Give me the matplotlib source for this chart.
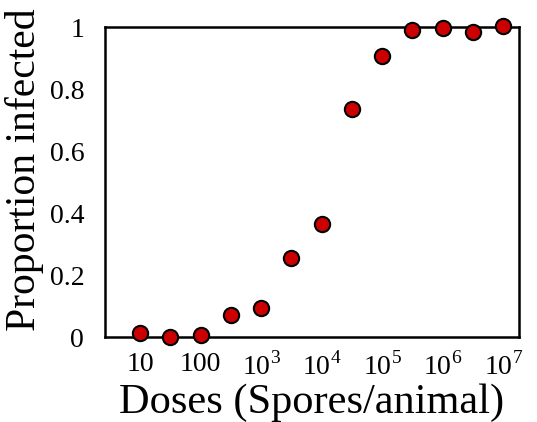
import numpy as np
import matplotlib.pyplot as plt

# Dose series: half-decade steps from 10 to 1e7 spores/animal
dose_exponents = [1, 1.5, 2, 2.5, 3, 3.5, 4, 4.5, 5, 5.5, 6, 6.5, 7]
proportion_infected = [0.014, 0.0, 0.005, 0.07, 0.093, 0.255, 0.365,
                       0.737, 0.908, 0.99, 0.997, 0.985, 1.003]
x_tick_exponents = [1, 2, 3, 4, 5, 6, 7]
x_tick_labels = ['10', '100', '10$^{3}$', '10$^{4}$', '10$^{5}$', '10$^{6}$', '10$^{7}$']
y_ticks = [0, 0.2, 0.4, 0.6, 0.8, 1]
y_tick_labels = ['0', '0.2', '0.4', '0.6', '0.8', '1']

plt.rcParams['font.family'] = 'Liberation Serif'
plt.rcParams['mathtext.fontset'] = 'custom'
plt.rcParams['mathtext.rm'] = 'Liberation Serif'

doses = 10.0 ** np.array(dose_exponents)

fig = plt.figure(figsize=(5.37, 4.22), dpi=100)
ax = fig.add_axes([0.1955, 0.2014, 0.771, 0.7346])

ax.plot(doses, proportion_infected, 'o', color='#cc0000', markeredgecolor='black',
        markeredgewidth=1.5, markersize=11, clip_on=False, zorder=3)

ax.set_xscale('log')
ax.set_xlim(10 ** 0.42, 10 ** 7.26)
ax.set_ylim(0, 1)
ax.set_xticks(10.0 ** np.array(x_tick_exponents))
ax.set_xticklabels(x_tick_labels)
ax.minorticks_off()
ax.set_yticks(y_ticks)
ax.set_yticklabels(y_tick_labels)
ax.tick_params(length=0, labelsize=20)
ax.tick_params(axis='x', pad=11)
ax.tick_params(axis='y', pad=15)

for s in ax.spines.values():
    s.set_linewidth(1.8)

ax.set_xlabel('Doses (Spores/animal)', fontsize=30.5)
ax.set_ylabel('Proportion infected', fontsize=30)
ax.xaxis.set_label_coords(0.5, -0.15)
ax.yaxis.set_label_coords(-0.148, 0.539)

fig.savefig('out.png', dpi=100)
